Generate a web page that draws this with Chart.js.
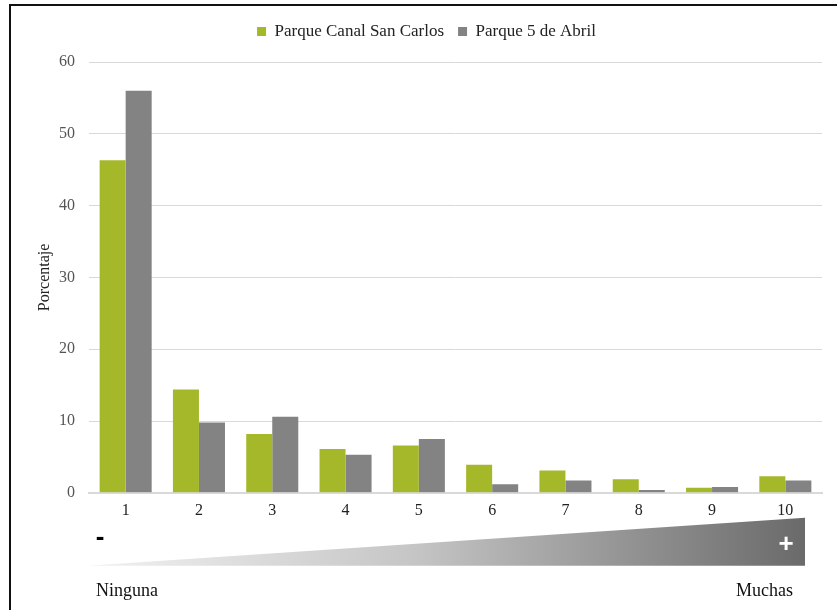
<!DOCTYPE html>
<html>
<head>
    <title>Porcentaje</title>
    <script src="https://cdn.jsdelivr.net/npm/chart.js"></script>
    <style>
        body { margin: 0; background: #fff; }
        #wrap { position: relative; width: 837px; height: 610px; }
        #frame { position: absolute; left: 9px; top: 4px; right: -5px; bottom: -5px;
                 border-top: 2px solid #111; border-left: 2px solid #111; pointer-events: none; }
    </style>
</head>
<body>
    <div id="wrap">
        <canvas id="myChart" width="837" height="610"></canvas>
        <div id="frame"></div>
    </div>

    <script>
        const categories = ['1', '2', '3', '4', '5', '6', '7', '8', '9', '10'];
        const canalSanCarlos = [46.3, 14.4, 8.2, 6.1, 6.6, 3.9, 3.1, 1.9, 0.7, 2.3];
        const cincoDeAbril = [56.0, 9.8, 10.6, 5.3, 7.5, 1.2, 1.7, 0.4, 0.8, 1.7];
        const seriesNames = ['Parque Canal San Carlos', 'Parque 5 de Abril'];
        const scaleEnds = ['Ninguna', 'Muchas'];

        const serif = 'Liberation Serif';

        // extra room between the legend and the plot
        const legendGap = {
            id: 'legendGap',
            beforeInit(chart) {
                const fit = chart.legend.fit;
                chart.legend.fit = function () {
                    fit.bind(chart.legend)();
                    this.height += 12;
                };
            }
        };

        // wedge under the x axis: light at "Ninguna", dark at "Muchas"
        const wedge = {
            id: 'wedge',
            afterDraw(chart) {
                const ctx = chart.ctx;
                const a = chart.chartArea;
                const x0 = a.left - 2, x1 = a.right - 17;
                const yTop = a.bottom + 25, yBot = a.bottom + 73;
                ctx.save();
                const g = ctx.createLinearGradient(x0, 0, x1, 0);
                g.addColorStop(0, '#f2f2f2');
                g.addColorStop(0.45, '#c6c6c6');
                g.addColorStop(1, '#6a6a6a');
                ctx.fillStyle = g;
                ctx.beginPath();
                ctx.moveTo(x0, yBot);
                ctx.lineTo(x1, yTop);
                ctx.lineTo(x1, yBot);
                ctx.closePath();
                ctx.fill();

                ctx.textBaseline = 'middle';
                ctx.textAlign = 'center';
                ctx.fillStyle = '#000';
                ctx.font = 'bold 26px "Liberation Sans"';
                ctx.fillText('-', x0 + 13, a.bottom + 45);
                ctx.fillStyle = '#fff';
                ctx.fillText('+', x1 - 19, a.bottom + 52);

                ctx.fillStyle = '#111';
                ctx.font = '18px "' + serif + '"';
                ctx.textAlign = 'left';
                ctx.fillText(scaleEnds[0], a.left + 7, a.bottom + 98);
                ctx.textAlign = 'right';
                ctx.fillText(scaleEnds[1], x1 - 12, a.bottom + 98);
                ctx.restore();
            }
        };

        const ctx = document.getElementById('myChart').getContext('2d');
        const chart = new Chart(ctx, {
            type: 'bar',
            data: {
                labels: categories,
                datasets: [{
                    label: seriesNames[0],
                    data: canalSanCarlos,
                    backgroundColor: '#a5b82a'
                }, {
                    label: seriesNames[1],
                    data: cincoDeAbril,
                    backgroundColor: '#838383'
                }]
            },
            options: {
                responsive: false,
                animation: false,
                categoryPercentage: 0.71,
                barPercentage: 1,
                layout: { padding: { left: 31, right: 15, top: 9, bottom: 82 } },
                plugins: {
                    tooltip: { enabled: false },
                    legend: {
                        position: 'top',
                        labels: {
                            boxWidth: 9,
                            boxHeight: 9,
                            padding: 14,
                            color: '#222',
                            font: { family: serif, size: 17 }
                        }
                    }
                },
                scales: {
                    x: {
                        grid: { display: false, drawTicks: false },
                        border: { color: '#d9d9d9', width: 2 },
                        ticks: { color: '#222', padding: 8, font: { family: serif, size: 16 } }
                    },
                    y: {
                        min: 0,
                        max: 60,
                        afterFit(scale) { scale.width = 58; },
                        ticks: { stepSize: 10, color: '#555', padding: 14, font: { family: serif, size: 16 } },
                        grid: { color: '#d9d9d9', drawTicks: false },
                        border: { display: false },
                        title: {
                            display: true,
                            text: 'Porcentaje',
                            color: '#222',
                            padding: { top: 4, bottom: 8 },
                            font: { family: serif, size: 16 }
                        }
                    }
                }
            },
            plugins: [legendGap, wedge]
        });
    </script>
</body>
</html>
